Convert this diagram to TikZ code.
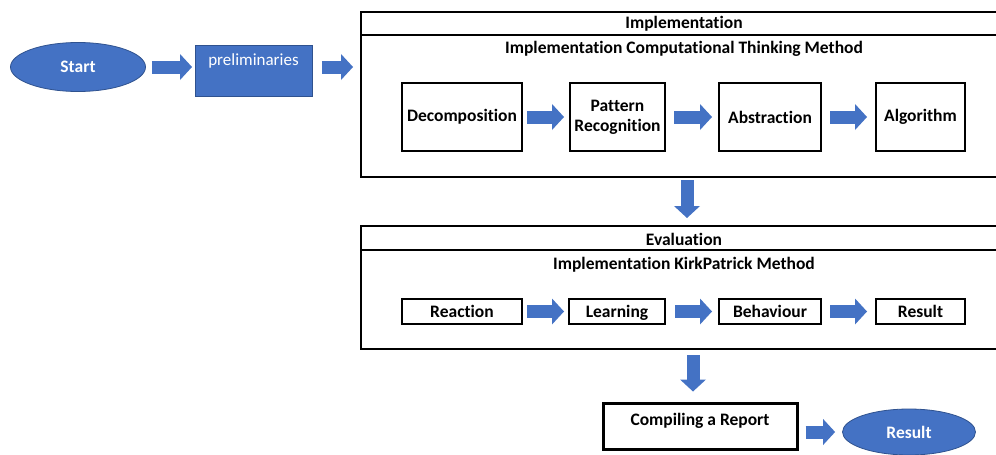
\documentclass[tikz,border=0pt]{standalone}
\usepackage{fontspec}
\setmainfont{Carlito}[RawFeature=-liga]
\usetikzlibrary{arrows.meta,shapes.geometric}
\definecolor{fillblue}{HTML}{4472C4}
\definecolor{edgeblue}{HTML}{2F528F}
\tikzset{
  ell/.style={ellipse, fill=fillblue, draw=edgeblue, line width=0.8pt, text=white, inner sep=0pt},
  frame/.style={draw=black, line width=1.6pt, inner sep=0pt, anchor=north west},
  stepbox/.style={draw=black, line width=2pt, inner sep=0pt, align=center, minimum height=68pt},
  smallbox/.style={draw=black, line width=2pt, inner sep=0pt, align=center, minimum height=25pt, text height=12.5pt, text depth=1.5pt},
  barrow/.style={line width=13pt, draw=fillblue, -{Triangle[length=12pt,width=26pt,line width=0pt]}}
}
\begin{document}
\begin{tikzpicture}[x=1pt,y=-1pt, font=\fontsize{17.5}{20}\selectfont\bfseries]
\useasboundingbox (0,0) rectangle (996,455);
\clip (0,0) rectangle (996,455);
\fill[white] (0,0) rectangle (996,455);

% left part
\node[ell, minimum width=135pt, minimum height=49pt] (start) at (78,67) {Start};
\node[fill=fillblue, draw=edgeblue, line width=0.8pt, minimum width=117pt, minimum height=51pt, anchor=north west] (prelim) at (195,45) {};
\node[text=white, font=\fontsize{17}{20}\selectfont] (prelimtxt) at (253.5,61) {preliminaries};

% implementation frame
\node[frame, minimum width=650pt, minimum height=23pt] (impltitle) at (360,11) {};
\node[frame, minimum width=650pt, minimum height=142pt] (implbody) at (360,34) {};
\node (impltitletxt) at (684,24) {Implementation};
\node (implsub) at (684,49) {Implementation Computational Thinking Method};

\node[stepbox, minimum width=120pt] (dec) at (462,117) {Decomposition};
\node[stepbox, minimum width=95pt] (pat) at (617.5,117) {Pattern\\Recognition};
\node[stepbox, minimum width=102pt] (abs) at (770,117) {Abstraction};
\node[stepbox, minimum width=89pt] (alg) at (920.5,117) {Algorithm};

% evaluation frame
\node[frame, minimum width=650pt, minimum height=24pt] (evaltitle) at (360,225) {};
\node[frame, minimum width=650pt, minimum height=99pt] (evalbody) at (360,249) {};
\node (evaltitletxt) at (684,239) {Evaluation};
\node (evalsub) at (684,265) {Implementation KirkPatrick Method};

\node[smallbox, minimum width=120pt] (rea) at (462,311.5) {Reaction};
\node[smallbox, minimum width=96pt] (lea) at (617,311.5) {Learning};
\node[smallbox, minimum width=102pt] (beh) at (770,311.5) {Behaviour};
\node[smallbox, minimum width=89pt] (res) at (920.5,311.5) {Result};

% report and result
\node[draw=black, line width=3pt, minimum width=194pt, minimum height=46pt, inner sep=0pt] (report) at (700,426) {};
\node (reporttxt) at (700,421) {Compiling a Report};
\node[ell, minimum width=133pt, minimum height=46pt] (result) at (909,432) {Result};

% connectors
\coordinate (c1) at (687,176);
\coordinate (c2) at (693,348);
\draw[barrow, shorten <=6pt, shorten >=3pt] (start.east) -- (start.east -| prelim.west);
\draw[barrow, shorten <=9pt, shorten >=7pt] (prelim.east |- start.east) -- (start.east -| implbody.west);
\draw[barrow, shorten <=4pt, shorten >=5pt] (dec.east) -- (pat.west);
\draw[barrow, shorten <=8pt, shorten >=6pt] (pat.east) -- (abs.west);
\draw[barrow, shorten <=8pt, shorten >=8pt] (abs.east) -- (alg.west);
\draw[barrow, shorten <=4pt, shorten >=4pt] (rea.east) -- (lea.west);
\draw[barrow, shorten <=9pt, shorten >=6pt] (lea.east) -- (beh.west);
\draw[barrow, shorten <=8pt, shorten >=8pt] (beh.east) -- (res.west);
\draw[barrow, shorten <=4pt, shorten >=7pt] (c1) -- (c1 |- evaltitle.north);
\draw[barrow, shorten <=7pt, shorten >=10pt] (c2) -- (c2 |- report.north);
\draw[barrow, shorten <=7pt, shorten >=7pt] (report.east |- result.west) -- (result.west);
\end{tikzpicture}
\end{document}
